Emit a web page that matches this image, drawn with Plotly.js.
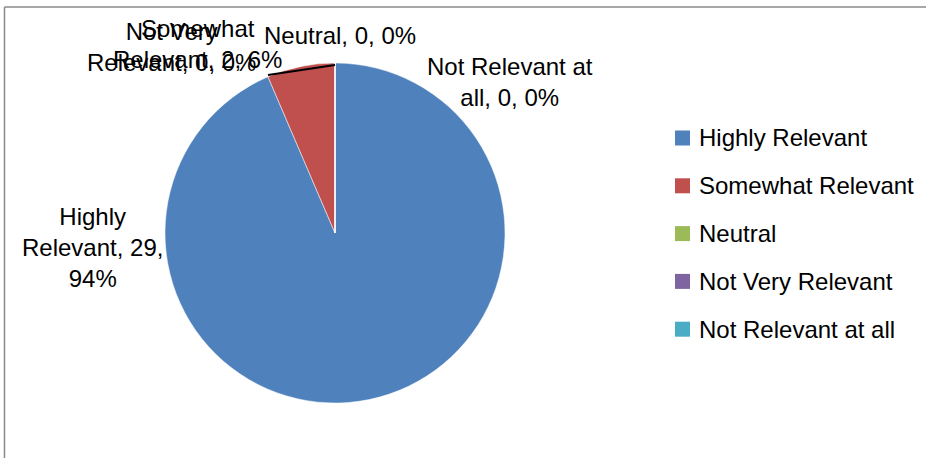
<!DOCTYPE html>
<html>
<head>
<meta charset="utf-8">
<script src="https://cdn.plot.ly/plotly-3.0.1.min.js"></script>
<style>html,body{margin:0;padding:0;background:#fff;}#chart{width:926px;height:458px;}</style>
</head>
<body>
<div id="chart"></div>
<script>
// ---- data ----
const categories = ["Highly Relevant", "Somewhat Relevant", "Neutral", "Not Very Relevant", "Not Relevant at all"];
const counts = [29, 2, 0, 0, 0];
const colors = ["#4F81BD", "#C0504D", "#9BBB59", "#8064A2", "#4BACC6"];

// ---- layout helpers ----
const W = 926, H = 458;
const FONT = "Liberation Sans, Arial, sans-serif";
const FS = 24;
const px = x => x / W;
const py = y => 1 - y / H;

const total = counts.reduce((a, b) => a + b, 0);
const pcts = counts.map(v => Math.round(v / total * 100));

function wrap(str, maxChars) {
  const words = str.split(" ");
  const lines = [];
  let cur = "";
  words.forEach(w => {
    const t = cur ? cur + " " + w : w;
    if (t.length > maxChars && cur) { lines.push(cur); cur = w; } else { cur = t; }
  });
  if (cur) lines.push(cur);
  return lines.join("<br>");
}

// data-label placement (pixel centres) and wrap widths
const labelPos = [[92, 247], [197, 44], [340, 35], [171, 47], [510, 82]];
const wrapWidth = [13, 16, 16, 16, 16];

const annotations = [];
categories.forEach((c, i) => {
  annotations.push({
    xref: "paper", yref: "paper",
    x: px(labelPos[i][0]), y: py(labelPos[i][1]),
    xanchor: "center", yanchor: "middle", align: "center",
    showarrow: false,
    text: wrap(`${c}, ${counts[i]}, ${pcts[i]}%`, wrapWidth[i]),
    font: {family: FONT, size: FS, color: "#000"}
  });
});

// manual legend
const shapes = [];
const legX = 675, legY0 = 138, legGap = 47.8, sq = 15;
categories.forEach((c, i) => {
  const cy = legY0 + i * legGap;
  shapes.push({
    type: "rect", xref: "paper", yref: "paper",
    x0: px(legX), x1: px(legX + sq), y0: py(cy - sq / 2), y1: py(cy + sq / 2),
    fillcolor: colors[i], line: {width: 0}
  });
  annotations.push({
    xref: "paper", yref: "paper",
    x: px(legX + 22), y: py(cy),
    xanchor: "left", yanchor: "middle", showarrow: false,
    text: c, font: {family: FONT, size: FS, color: "#000"}
  });
});

// leader line for zero/small slices at top
shapes.push({type: "line", xref: "paper", yref: "paper",
  x0: px(268), y0: py(75), x1: px(335), y1: py(65),
  line: {color: "#000", width: 2}});

// chart-area border (top and left visible)
shapes.push({type: "line", xref: "paper", yref: "paper",
  x0: px(4.5), y0: py(7), x1: 1, y1: py(7), line: {color: "#8a8a8a", width: 1.5}});
shapes.push({type: "line", xref: "paper", yref: "paper",
  x0: px(4.5), y0: py(7), x1: px(4.5), y1: 0, line: {color: "#8a8a8a", width: 1.5}});

const cx = 335, cyPie = 233, r = 170;
const trace = {
  type: "pie",
  labels: categories,
  values: counts,
  sort: false,
  direction: "clockwise",
  rotation: 0,
  textinfo: "none",
  hoverinfo: "label+value+percent",
  showlegend: false,
  marker: {colors: colors, line: {color: "#ffffff", width: 0.5}},
  domain: {x: [px(cx - r), px(cx + r)], y: [py(cyPie + r), py(cyPie - r)]}
};

const layout = {
  width: W, height: H,
  margin: {l: 0, r: 0, t: 0, b: 0},
  paper_bgcolor: "#fff",
  showlegend: false,
  annotations: annotations,
  shapes: shapes,
  font: {family: FONT}
};

Plotly.newPlot("chart", [trace], layout, {staticPlot: true});
</script>
</body>
</html>
